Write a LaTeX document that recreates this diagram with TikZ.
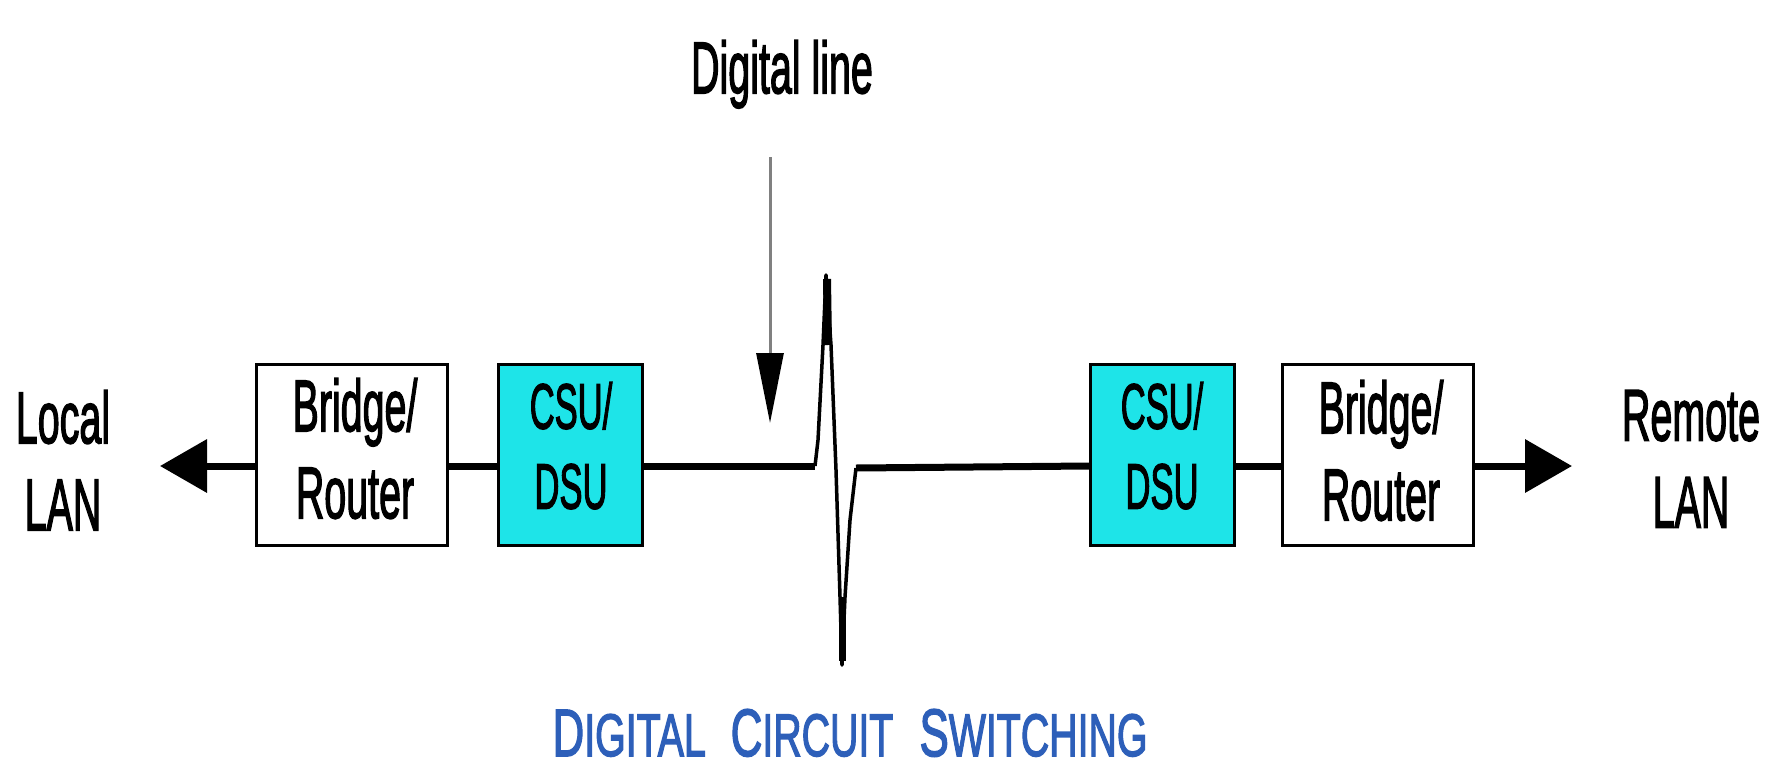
\documentclass[tikz,border=0pt]{standalone}
\usepackage{fontspec}
\setmainfont{Liberation Sans}[BoldFont={Liberation Sans},BoldFeatures={FakeBold=2.5}]
\usetikzlibrary{arrows.meta,calc}
\newcommand\nar[1]{\scalebox{0.54}[1]{#1}}
\newcommand\fakesc[2]{{\fontsize{67}{67}\selectfont #1}{\fontsize{60}{60}\selectfont #2}}
\definecolor{csucyan}{RGB}{30,228,232}
\definecolor{titleblue}{RGB}{45,95,185}
\begin{document}
\begin{tikzpicture}[x=1pt,y=-1pt,
  box/.style={draw=black,line width=3pt,minimum height=181pt,inner sep=0pt},
  csubox/.style={box,fill=csucyan,minimum width=144pt},
  brbox/.style={box,fill=white,minimum width=191pt},
  lbl/.style={font=\fontsize{73}{87}\selectfont\bfseries,align=center,inner sep=0pt,anchor=north},
  csulbl/.style={font=\fontsize{64}{80}\selectfont\bfseries,align=center,inner sep=0pt,anchor=north},
  mainline/.style={line width=7pt},
  bigtip/.style={-{Triangle[length=47pt,width=52pt]}},
]
\useasboundingbox (0,0) rectangle (1779,763);
\fill[white] (0,0) rectangle (1779,763);

% boxes
\node[brbox]  (bl) at (352,455) {};
\node[csubox] (lc) at (570,455) {};
\node[csubox] (rc) at (1162.5,455) {};
\node[brbox]  (br) at (1378,455) {};

% box labels
\node[lbl]    (blt) at (355,378) {\nar{Bridge/}\\\nar{Router}};
\node[csulbl] (lct) at (571,382) {\nar{CSU/}\\\nar{DSU}};
\node[csulbl] (rct) at (1162,382) {\nar{CSU/}\\\nar{DSU}};
\node[lbl]    (brt) at (1381,380) {\nar{Bridge/}\\\nar{Router}};

% side labels
\node[lbl] (local)  at (63,390)   {\nar{Local}\\\nar{LAN}};
\node[lbl] (remote) at (1691,390) {\nar{Remote}\\\nar{LAN}};
\node[lbl] (dl)     at (782,40)   {\nar{Digital line}};

% title
\node[inner sep=0pt,anchor=base,text=titleblue,font=\bfseries] (title) at (850,756)
  {\scalebox{0.655}[1]{\fakesc{D}{IGITAL}\hspace{38pt}\fakesc{C}{IRCUIT}\hspace{40pt}\fakesc{S}{WITCHING}}};

% coordinates
\coordinate (ly) at (0,466);
\coordinate (tipL) at (160,466);
\coordinate (tipR) at (1572,466);
\coordinate (z1) at (815,466);
\coordinate (z2) at (826,275);
\coordinate (z3) at (842,665);
\coordinate (z4) at (856,468);
\coordinate (dls) at (770,157);
\coordinate (dlt) at (770,423);

% connectors
\draw[mainline,bigtip] (bl.west |- ly) -- (tipL);
\draw[mainline] (bl.east |- ly) -- (lc.west |- ly);
\draw[mainline] (lc.east |- ly) -- (z1);
\draw[line width=3.5pt,line join=round]
  (z1) -- (818,440) -- (823,345) -- (z2) -- (831,345) -- (836,470) -- (840,597)
  -- (z3) -- (845,597) -- (850,520) -- (z4);
\draw[line width=8pt] (827,279) -- (828,345);
\draw[line width=7pt] (842,597) -- (842,661);
\draw[mainline] (z4) -- (rc.west |- ly);
\draw[mainline] (rc.east |- ly) -- (br.west |- ly);
\draw[mainline,bigtip] (br.east |- ly) -- (tipR);

\draw[line width=3pt,draw=black!50,-{Triangle[length=70pt,width=27pt,black]}] (dls) -- (dlt);
\end{tikzpicture}
\end{document}
